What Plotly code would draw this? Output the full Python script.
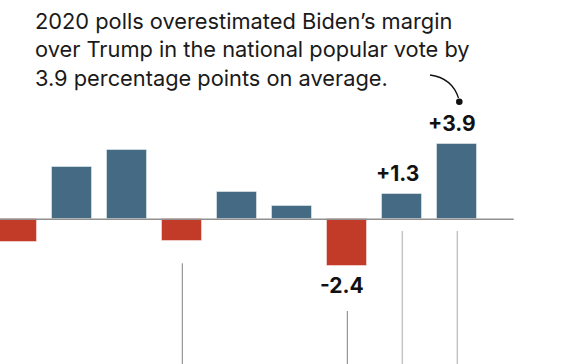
import plotly.graph_objects as go

# Data
positions = [0, 1, 2, 3, 4, 5, 6, 7, 8]
values = [-1.2, 2.7, 3.6, -1.1, 1.4, 0.7, -2.4, 1.3, 3.9]
labeled_idx = [6, 7, 8]
label_texts = ["-2.4", "+1.3", "+3.9"]
title_lines = [
    "2020 polls overestimated Biden\u2019s margin",
    "over Trump in the national popular vote by",
    "3.9 percentage points on average.",
]

BLUE = "#446a84"
RED = "#c13b28"
colors = [BLUE if v >= 0 else RED for v in values]
FONT = "Inter"

W, H = 566, 364
px_per_cat = 55.0
x0_px = 17.3
px_per_pt = 19.3
base_px = 219.3


def dx(px):
    return (px - x0_px) / px_per_cat


def dy(py):
    return (base_px - py) / px_per_pt


def paper_x(px):
    return px / W


def paper_y(py):
    return 1 - py / H


xr = [dx(0), dx(W)]
yr = [dy(H), dy(0)]

fig = go.Figure()
fig.add_trace(go.Bar(
    x=positions, y=values, width=40 / px_per_cat,
    marker=dict(color=colors, line=dict(color="rgba(255,255,255,0.45)", width=1)),
    hoverinfo="skip", showlegend=False,
))

shapes = []
shapes.append(dict(type="line", xref="x", yref="y", x0=xr[0], x1=dx(513.7), y0=0, y1=0,
                   line=dict(color="#909090", width=1.5), layer="above"))
shapes.append(dict(type="line", xref="x", yref="y", x0=3, x1=3, y0=dy(263.3), y1=yr[0],
                   line=dict(color="#808080", width=1)))
shapes.append(dict(type="line", xref="x", yref="y", x0=6, x1=6, y0=dy(311), y1=yr[0],
                   line=dict(color="#808080", width=1)))
for i in (7, 8):
    shapes.append(dict(type="line", xref="x", yref="y", x0=i, x1=i, y0=dy(231), y1=yr[0],
                       line=dict(color="#c4c4c4", width=1.5)))
p0 = (dx(430), dy(75))
p1 = (dx(452), dy(78))
p2 = (dx(458.5), dy(98))
shapes.append(dict(type="path", xref="x", yref="y",
                   path=f"M {p0[0]},{p0[1]} Q {p1[0]},{p1[1]} {p2[0]},{p2[1]}",
                   line=dict(color="#111111", width=1.3)))
r = 3.3
cx, cy = 459.3, 101.7
shapes.append(dict(type="circle", xref="x", yref="y",
                   x0=dx(cx - r), x1=dx(cx + r), y0=dy(cy + r), y1=dy(cy - r),
                   fillcolor="#111111", line=dict(color="#111111", width=0)))

annotations = []
for i, t in zip(labeled_idx, label_texts):
    v = values[i]
    annotations.append(dict(
        x=positions[i], y=v, xref="x", yref="y", text=t, showarrow=False,
        xshift=-5, yshift=(6 if v >= 0 else -5),
        yanchor=("bottom" if v >= 0 else "top"),
        font=dict(family=FONT, size=21, color="#111111", weight="bold"),
    ))
title_centers = [21.0, 49.5, 78.0]
for line, cyp in zip(title_lines, title_centers):
    annotations.append(dict(
        x=paper_x(33), y=paper_y(cyp), xref="paper", yref="paper",
        xanchor="left", yanchor="middle", align="left", showarrow=False,
        text=line,
        font=dict(family=FONT, size=21.8, color="#1a1a1a"),
    ))

fig.update_layout(
    width=W, height=H, margin=dict(l=0, r=0, t=0, b=0),
    paper_bgcolor="white", plot_bgcolor="white",
    xaxis=dict(range=xr, visible=False, fixedrange=True),
    yaxis=dict(range=yr, visible=False, fixedrange=True),
    shapes=shapes, annotations=annotations, bargap=0,
)
fig.write_html(
    "out.html",
    config={"displayModeBar": False},
    post_script="document.body.style.margin='0';document.body.style.overflow='hidden';",
)
